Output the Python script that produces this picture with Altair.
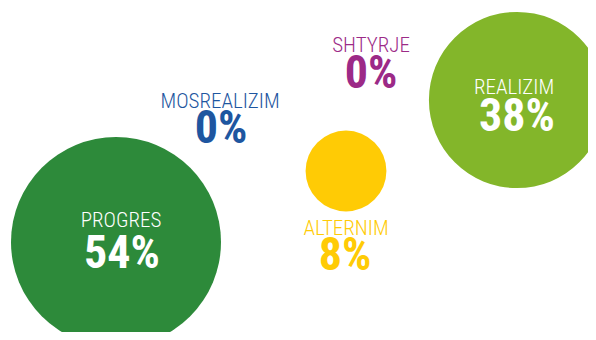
import altair as alt
import pandas as pd

# ---- data ----
categories = ["PROGRES", "REALIZIM", "ALTERNIM", "SHTYRJE", "MOSREALIZIM"]
values = [54, 38, 8, 0, 0]
value_labels = ["54%", "38%", "8%", "0%", "0%"]

# ---- layout (page pixel coordinates) ----
bubble_x = [116, 517, 346, 371, 220]
bubble_y = [242, 100, 171, 60, 114]
name_x = [121, 514, 346, 371, 220]
name_y = [227, 94, 235, 52, 108]
value_x = [122, 517, 345, 371, 221]
value_y = [268, 131, 270, 88, 143]

# ---- styles ----
colors = ["#2D8A3A", "#83B62A", "#FFCB05", "#9C2A87", "#1E56A0"]
text_colors = ["#FFFFFF", "#FFFFFF", "#FFCB05", "#9C2A87", "#1E56A0"]

df = pd.DataFrame({
    "cat": categories, "val": values, "lab": value_labels,
    "bx": bubble_x, "by": bubble_y, "nx": name_x, "ny": name_y,
    "vx": value_x, "vy": value_y, "col": colors, "tcol": text_colors,
})

W, H = 580, 324
xs = alt.Scale(domain=[8, 8 + W], nice=False, zero=False)
ys = alt.Scale(domain=[8, 8 + H], reverse=True, nice=False, zero=False)
FONT = "Roboto Condensed, Open Sans Condensed, sans-serif"

base = alt.Chart(df)

bubbles = base.mark_circle(opacity=1, strokeWidth=0).encode(
    x=alt.X("bx:Q", scale=xs, axis=None),
    y=alt.Y("by:Q", scale=ys, axis=None),
    size=alt.Size("val:Q", scale=alt.Scale(domain=[0, 100], range=[0, 81667]), legend=None),
    color=alt.Color("col:N", scale=None),
)

names = base.mark_text(font=FONT, fontSize=21, fontWeight=300, baseline="alphabetic", align="center").encode(
    x=alt.X("nx:Q", scale=xs, axis=None),
    y=alt.Y("ny:Q", scale=ys, axis=None),
    text="cat:N",
    color=alt.Color("tcol:N", scale=None),
)

vals = base.mark_text(font=FONT, fontSize=46, fontWeight="bold", baseline="alphabetic", align="center").encode(
    x=alt.X("vx:Q", scale=xs, axis=None),
    y=alt.Y("vy:Q", scale=ys, axis=None),
    text="lab:N",
    color=alt.Color("tcol:N", scale=None),
)

chart = alt.layer(bubbles, names, vals).properties(
    width=W, height=H, padding=0, autosize=alt.AutoSizeParams(type="none"),
    background="white",
).configure_view(strokeWidth=0)

chart.save("out.html", embed_options={"renderer": "svg", "actions": False})
